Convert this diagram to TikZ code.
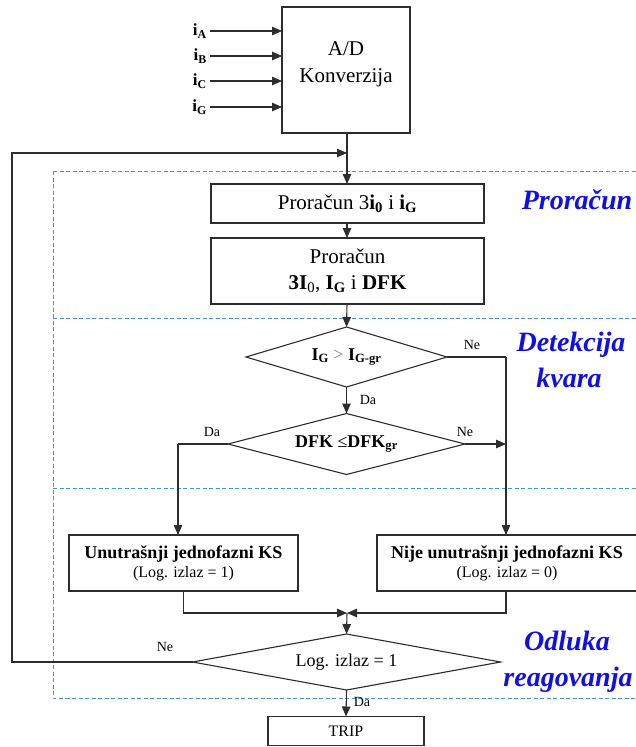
\documentclass[tikz,border=0pt]{standalone}
\usepackage{fontspec}
\setmainfont{Liberation Serif}
\usetikzlibrary{shapes.geometric,arrows.meta}
\definecolor{lin}{RGB}{45,45,45}
\definecolor{dashc}{RGB}{70,150,210}
\definecolor{lab}{RGB}{15,15,230}
\newcommand{\fsz}[2]{\fontsize{#1}{#2}\selectfont}
\begin{document}
\begin{tikzpicture}[x=1pt,y=-1pt,
  box/.style={draw=lin, line width=1.1pt, inner sep=0pt, outer sep=0pt, align=center},
  dia/.style={draw=lin, line width=1.1pt, shape=diamond, inner sep=0pt, outer sep=0pt, align=center},
  arr/.style={draw=lin, line width=1.1pt, -{Triangle[length=10pt,width=8.5pt]}},
  ln/.style={draw=lin, line width=1.1pt},
  dashline/.style={draw=dashc, line width=0.9pt, dash pattern=on 4pt off 2.5pt},
  small/.style={font=\fsz{14}{17}, inner sep=0pt},
  sect/.style={font=\fsz{28}{33}\bfseries\itshape, text=lab, inner sep=0pt},
  inp/.style={font=\fsz{17}{20}\bfseries, inner sep=0pt, anchor=east}]
\useasboundingbox (0,0) rectangle (635,747);

% dashed section frame
\draw[dashline] (53,171) -- (645,171);
\draw[dashline] (53,171) -- (53,698) -- (645,698);
\draw[dashline] (53,318) -- (645,318);
\draw[dashline] (53,488) -- (645,488);

% A/D
\node[box, minimum width=128pt, minimum height=126pt] (ad) at (346,70) {};
\node[font=\fsz{21}{25}, align=center, inner sep=0pt] (adt) at (346,64) {A/D\\[2pt]Konverzija};

\node[inp] (ia) at (207,31) {i\textsubscript{A}};
\node[inp] (ib) at (207,56) {i\textsubscript{B}};
\node[inp] (ic) at (207,81) {i\textsubscript{C}};
\node[inp] (ig) at (207,107) {i\textsubscript{G}};
\foreach \n in {ia,ib,ic,ig}{
  \draw[arr] ([xshift=3pt]\n.east) -- (\n.east -| ad.west);
}

% Proracun boxes
\node[box, minimum width=273pt, minimum height=39pt, font=\fsz{21}{25}] (p1) at (347.5,203.5)
  {Proračun 3\textbf{i}\textsubscript{\textbf{0}} i \textbf{i}\textsubscript{\textbf{G}}};
\node[box, minimum width=273pt, minimum height=66pt, font=\fsz{21}{25}] (p2) at (347.5,271)
  {Proračun\\[1pt]\textbf{3I}\textsubscript{0}, \textbf{I\textsubscript{G}} i \textbf{DFK}};

\coordinate (j1) at (347,153);
\draw[arr] (ad.south -| j1) -- (p1.north -| j1);
\draw[arr] (p1.south -| j1) -- (p2.north -| j1);

% decision diamonds
\node[dia, aspect=3.35, minimum width=201pt, minimum height=60pt, font=\fsz{18}{22}] (d1) at (346.5,357)
  {\textbf{I\textsubscript{G}} {\color{gray}>} \textbf{I\textsubscript{G-gr}}};
\node[dia, aspect=3.9, minimum width=237pt, minimum height=61pt, font=\fsz{18}{22}] (d2) at (346.5,444)
  {\textbf{DFK} ≤\textbf{DFK\textsubscript{gr}}};
\draw[arr] (p2.south -| j1) -- (d1.north);
\draw[arr] (d1.south) -- (d2.north);

% result boxes
\node[box, minimum width=229pt, minimum height=56pt] (b3) at (183.5,563)
  {{\fsz{18}{22}\bfseries Unutrašnji jednofazni KS}\\[3pt]{\fsz{16}{19}(Log. izlaz = 1)}};
\node[box, minimum width=260pt, minimum height=56pt] (b4) at (507,563)
  {{\fsz{18}{22}\bfseries Nije unutrašnji jednofazni KS}\\[3pt]{\fsz{16}{19}(Log. izlaz = 0)}};

\coordinate (r1) at (506,357);
\coordinate (l2) at (178,444);
\draw[ln] (d1.east) -- (r1);
\draw[arr] (r1) -- (r1 |- b4.north);
\draw[arr] (d2.east) -- (r1 |- d2.east);
\draw[ln] (d2.west) -- (l2);
\draw[arr] (l2) -- (l2 |- b3.north);

% merge
\coordinate (m) at (347,613);
\draw[arr] (b3.south) -- (b3.south |- m) -- (m);
\draw[arr] (r1 |- b4.south) -- (r1 |- m) -- (m);

\node[dia, aspect=5.5, minimum width=308pt, minimum height=56pt, font=\fsz{18}{22}] (d3) at (346.5,662)
  {Log. izlaz = 1};
\draw[arr] (m) -- (d3.north);

\node[box, minimum width=156pt, minimum height=29pt, font=\fsz{16}{19}] (trip) at (346,731) {TRIP};
\draw[arr] (d3.south) -- (trip.north);

% feedback
\coordinate (fb) at (12,662);
\draw[arr] (d3.west) -- (fb) -- (fb |- j1) -- (j1);

% small labels
\node[small] (ne1) at (472,345) {Ne};
\node[small] (da1) at (368,400) {Da};
\node[small] (da2) at (212,432) {Da};
\node[small] (ne2) at (465,432) {Ne};
\node[small] (ne3) at (165,647) {Ne};
\node[small] (da3) at (362,702) {Da};

% section labels
\node[sect] (s1) at (577,200) {Proračun};
\node[sect] (s2) at (571,345) {Detekcija};
\node[sect] (s3) at (569,378) {kvara};
\node[sect] (s4) at (567,641) {Odluka};
\node[sect] (s5) at (568,680) {reagovanja};
\end{tikzpicture}
\end{document}
